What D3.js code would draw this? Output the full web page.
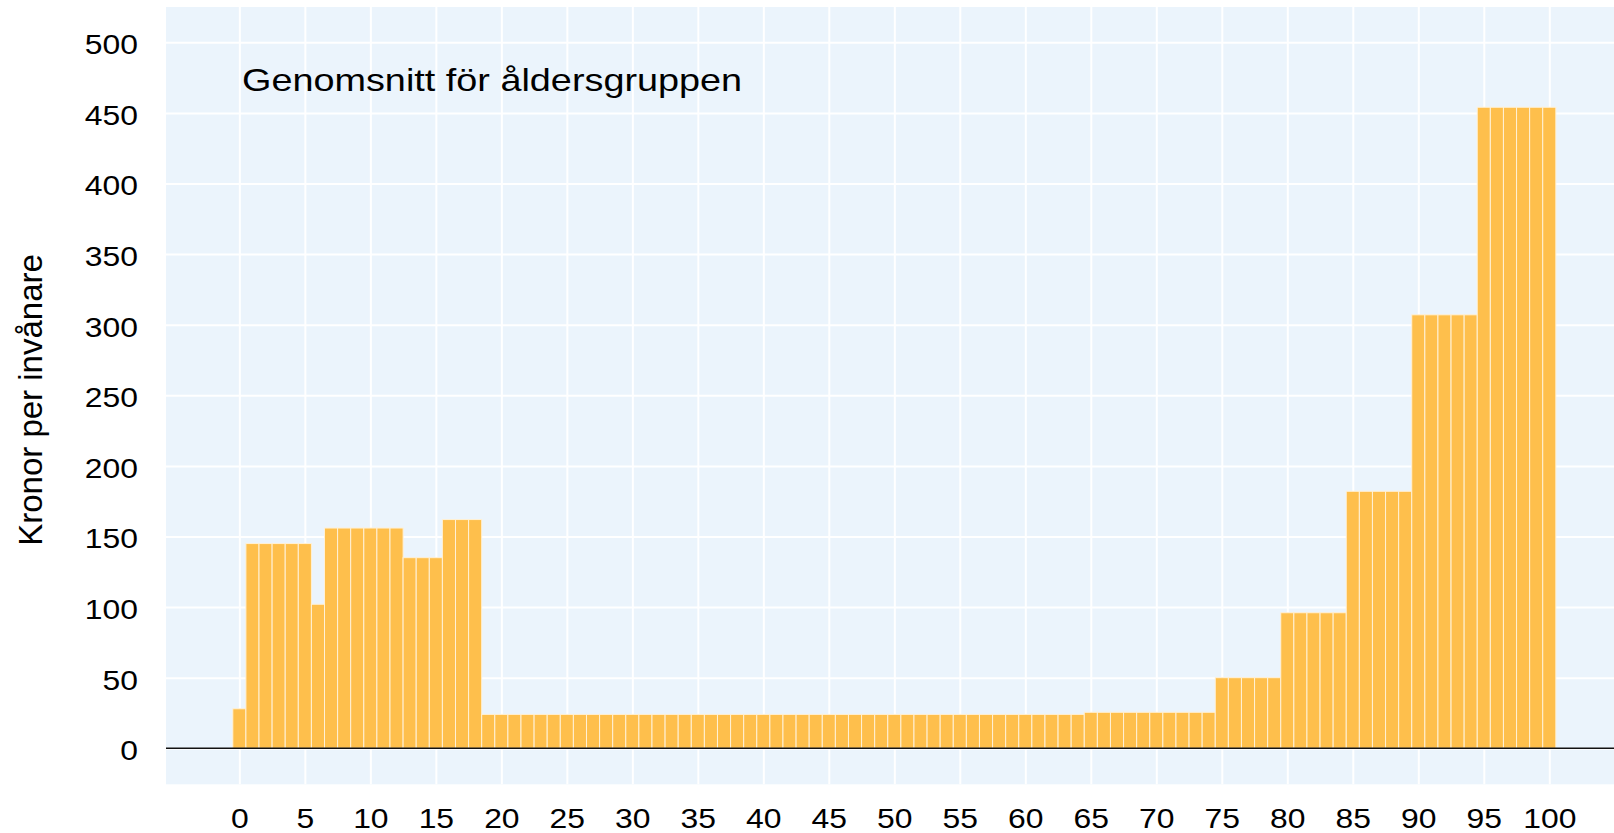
<!DOCTYPE html>
<html>
<head>
<meta charset="utf-8">
<script src="https://cdn.jsdelivr.net/npm/d3@7"></script>
<style>
  body { margin: 0; background: #fff; }
  text { font-family: "Liberation Sans", Arial, sans-serif; fill: #000; }
</style>
</head>
<body>
<div id="chart"></div>
<script>
// ages 0..100
var ages = d3.range(0, 101);

// kronor per invånare, one value per age
var values = [
  28,
  145, 145, 145, 145, 145,
  102,
  156, 156, 156, 156, 156, 156,
  135, 135, 135,
  162, 162, 162,
  24, 24, 24, 24, 24, 24, 24, 24, 24, 24,
  24, 24, 24, 24, 24, 24, 24, 24, 24, 24,
  24, 24, 24, 24, 24, 24, 24, 24, 24, 24,
  24, 24, 24, 24, 24, 24, 24, 24, 24, 24,
  24, 24, 24, 24, 24, 24,
  25.5, 25.5, 25.5, 25.5, 25.5, 25.5, 25.5, 25.5, 25.5, 25.5,
  50, 50, 50, 50, 50,
  96, 96, 96, 96, 96,
  182, 182, 182, 182, 182,
  307, 307, 307, 307, 307,
  454, 454, 454, 454, 454, 454
];

var xTicks = [0, 5, 10, 15, 20, 25, 30, 35, 40, 45, 50, 55, 60, 65, 70, 75, 80, 85, 90, 95, 100];
var yTicks = [0, 50, 100, 150, 200, 250, 300, 350, 400, 450, 500];

var titleText = "Genomsnitt för åldersgruppen";
var yLabel = "Kronor per invånare";

var width = 1614;
var height = 833;

// panel box (not named top/left: window.top is read-only)
var pLeft = 166, pRight = 1614, pTop = 7, pBottom = 784.3;

var svg = d3.select("#chart")
  .append("svg")
  .attr("width", width)
  .attr("height", height);

var x = d3.scaleLinear().domain([-5.6, 104.94]).range([pLeft, pRight]);
var y = d3.scaleLinear().domain([-25.5, 525]).range([pBottom, pTop]);

// background panel
svg.append("rect")
  .attr("x", pLeft)
  .attr("y", pTop)
  .attr("width", pRight - pLeft)
  .attr("height", pBottom - pTop)
  .attr("fill", "#EBF4FC");

// horizontal grid
var yGrid = svg.append("g")
  .attr("transform", "translate(" + pLeft + ",0)")
  .call(d3.axisLeft(y).tickValues(yTicks).tickSize(-(pRight - pLeft)).tickFormat(""));
yGrid.select(".domain").remove();
yGrid.selectAll("line").attr("stroke", "#fff").attr("stroke-width", 2);

// vertical grid
var xGrid = svg.append("g")
  .attr("transform", "translate(0," + pBottom + ")")
  .call(d3.axisBottom(x).tickValues(xTicks).tickSize(-(pBottom - pTop)).tickFormat(""));
xGrid.select(".domain").remove();
xGrid.selectAll("line").attr("stroke", "#fff").attr("stroke-width", 2);

// bars
var barW = x(0.5) - x(-0.5);
svg.append("g")
  .selectAll("rect")
  .data(ages)
  .enter()
  .append("rect")
  .attr("x", function(d) { return x(d) - barW / 2; })
  .attr("y", function(d, i) { return y(values[i]); })
  .attr("width", barW)
  .attr("height", function(d, i) { return y(0) - y(values[i]); })
  .attr("fill", "#FEBF4C")
  .attr("stroke", "#FFF1D6")
  .attr("stroke-width", 1);

// zero line
svg.append("line")
  .attr("x1", pLeft)
  .attr("x2", pRight)
  .attr("y1", y(0))
  .attr("y2", y(0))
  .attr("stroke", "#111")
  .attr("stroke-width", 1.6);

// y tick labels
var yAxis = svg.append("g")
  .attr("transform", "translate(138,0)")
  .call(d3.axisLeft(y).tickValues(yTicks).tickSize(0).tickPadding(0));
yAxis.select(".domain").remove();
yAxis.selectAll("text")
  .attr("font-size", 27)
  .attr("dy", "0.42em")
  .attr("transform", "scale(1.18,1)")
  .style("font-family", "'Liberation Sans', Arial, sans-serif")
  .attr("fill", "#000");

// x tick labels
var xAxis = svg.append("g")
  .attr("transform", "translate(0,809)")
  .call(d3.axisBottom(x).tickValues(xTicks).tickSize(0).tickPadding(0));
xAxis.select(".domain").remove();
xAxis.selectAll("text")
  .attr("font-size", 27)
  .attr("transform", "scale(1.18,1)")
  .style("font-family", "'Liberation Sans', Arial, sans-serif")
  .attr("fill", "#000");

// title inside the panel
svg.append("text")
  .attr("transform", "translate(242,91) scale(1.22,1)")
  .attr("font-size", 31)
  .text(titleText);

// y axis title
svg.append("text")
  .attr("transform", "translate(42,400) rotate(-90)")
  .attr("text-anchor", "middle")
  .attr("font-size", 33)
  .text(yLabel);
</script>
</body>
</html>
